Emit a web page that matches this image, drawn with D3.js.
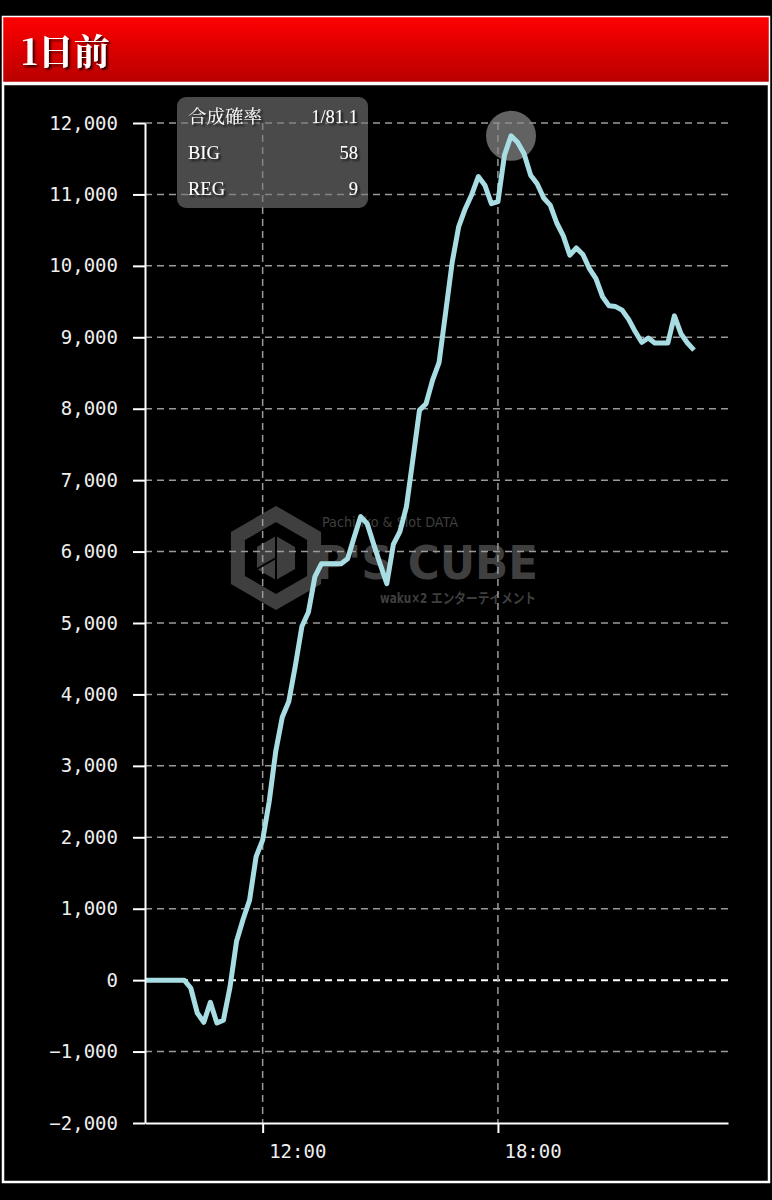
<!DOCTYPE html>
<html><head><meta charset="utf-8">
<script src="https://cdn.jsdelivr.net/npm/d3@7/dist/d3.min.js"></script>
<style>
html,body{margin:0;padding:0;background:#000;}
svg{display:block;}
</style></head>
<body>
<script>
const title = "1日前";
const times = [
"09:00","09:10","09:20","09:30","09:40","09:50",
"10:00","10:10","10:20","10:30","10:40","10:50",
"11:00","11:10","11:20","11:30","11:40","11:50",
"12:00","12:10","12:20","12:30","12:40","12:50",
"13:00","13:10","13:20","13:30","13:40","13:50",
"14:00","14:10","14:20","14:30","14:40","14:50",
"15:00","15:10","15:20","15:30","15:40","15:50",
"16:00","16:10","16:20","16:30","16:40","16:50",
"17:00","17:10","17:20","17:30","17:40","17:50",
"18:00","18:10","18:20","18:30","18:40","18:50",
"19:00","19:10","19:20","19:30","19:40","19:50",
"20:00","20:10","20:20","20:30","20:40","20:50",
"21:00","21:10","21:20","21:30","21:40","21:50",
"22:00","22:10","22:20","22:30","22:40","22:50",
"23:00"];
const values = [
0,0,0,0,0,0,
0,-110,-460,-590,-310,-600,
-560,-100,540,850,1120,1730,
1960,2500,3200,3680,3900,4400,
4950,5150,5650,5830,5830,5830,
5830,5900,6200,6490,6390,6100,
5820,5550,6100,6280,6630,7300,
7980,8070,8400,8650,9350,10050,
10550,10800,11000,11250,11130,10870,
10900,11550,11820,11730,11570,11270,
11150,10950,10850,10600,10420,10150,
10250,10160,9960,9820,9570,9440,
9430,9380,9250,9080,8930,8990,
8920,8920,8920,9300,9050,8920,
8820];
const yTicks = [-2000,-1000,0,1000,2000,3000,4000,5000,6000,7000,8000,9000,10000,11000,12000];
const xTicks = ["12:00","18:00"];
const xDomain = ["09:00","23:52"];
const statLabels = ["合成確率","BIG","REG"];
const statValues = ["1/81.1","58","9"];

const W = 772, H = 1200;
const parse = d3.timeParse("%H:%M");
const svg = d3.select("body").append("svg").attr("width",W).attr("height",H);

const defs = svg.append("defs");
const grad = defs.append("linearGradient").attr("id","hdr").attr("x1",0).attr("y1",0).attr("x2",0).attr("y2",1);
grad.append("stop").attr("offset","0%").attr("stop-color","#ff0000");
grad.append("stop").attr("offset","100%").attr("stop-color","#b80000");
const sh = defs.append("filter").attr("id","sh").attr("x","-20%").attr("y","-20%").attr("width","140%").attr("height","140%");
sh.append("feDropShadow").attr("dx",2).attr("dy",2).attr("stdDeviation",1).attr("flood-color","#000").attr("flood-opacity",0.8);

svg.append("rect").attr("width",W).attr("height",H).attr("fill","#000");

// header
svg.append("rect").attr("x",2.5).attr("y",16.5).attr("width",767).attr("height",66)
  .attr("fill","url(#hdr)").attr("stroke","#fff").attr("stroke-width",1.5);
svg.append("text").attr("x",21).attr("y",65).text(title)
  .attr("font-family","'Noto Serif CJK JP','Liberation Serif','Noto Sans CJK JP',serif")
  .attr("font-weight","bold").attr("font-size",36).attr("fill","#fff").attr("filter","url(#sh)");

// panel
svg.append("rect").attr("x",3).attr("y",84).attr("width",766).attr("height",1098)
  .attr("fill","#000").attr("stroke","#fff").attr("stroke-width",2.5);

const x = d3.scaleTime().domain(xDomain.map(parse)).range([145,728]);
const y = d3.scaleLinear().domain([-2000,12000]).range([1123,123]);

// watermark
const wm = svg.append("g").attr("fill","#3f3f3f");
(function(){
  const cx=276, cy=558, R=44;
  const hex = d3.range(6).map(i=>{const a=Math.PI/3*i - Math.PI/2; return [cx+R*Math.cos(a), cy+R*Math.sin(a)];});
  svg.append("path").attr("d","M"+hex.join("L")+"Z").attr("fill","none").attr("stroke","#3f3f3f").attr("stroke-width",14).attr("stroke-linejoin","miter");
  const r2=22;
  const hex2 = d3.range(6).map(i=>{const a=Math.PI/3*i - Math.PI/2; return [cx+r2*Math.cos(a), cy+r2*Math.sin(a)];});
  svg.append("path").attr("d","M"+hex2.join("L")+"Z").attr("fill","#3f3f3f");
  svg.append("path").attr("d",`M${hex2[0]}L${cx},${cy}L${hex2[4]}M${cx},${cy}L${cx},${cy+r2}`).attr("stroke","#000").attr("stroke-width",2).attr("fill","none");
})();
wm.append("text").attr("x",322).attr("y",527).attr("font-family","'DejaVu Sans Condensed','DejaVu Sans',sans-serif").attr("font-size",14).attr("textLength",136).attr("lengthAdjust","spacingAndGlyphs").text("Pachinko & Slot DATA");
wm.append("text").attr("x",316).attr("y",579).attr("font-family","'DejaVu Sans Condensed','DejaVu Sans',sans-serif").attr("font-weight","bold").attr("font-size",46).attr("textLength",222).attr("lengthAdjust","spacingAndGlyphs").text("P'S CUBE");
wm.append("text").attr("x",380).attr("y",603).attr("font-family","'DejaVu Sans Condensed','Noto Sans CJK JP',sans-serif").attr("font-weight","bold").attr("font-size",14).attr("textLength",156).attr("lengthAdjust","spacingAndGlyphs").text("waku×2 エンターテイメント");

// grid
const grid = svg.append("g");
grid.selectAll("line.h").data(yTicks.filter(d=>d>-2000)).join("line")
  .attr("x1",145).attr("x2",728).attr("y1",d=>y(d)).attr("y2",d=>y(d))
  .attr("stroke",d=>d===0?"#fff":"#9a9a9a").attr("stroke-width",d=>d===0?2:1.5).attr("stroke-dasharray","7,5");
grid.selectAll("line.v").data(xTicks).join("line")
  .attr("x1",d=>x(parse(d))).attr("x2",d=>x(parse(d))).attr("y1",123).attr("y2",1123)
  .attr("stroke","#9a9a9a").attr("stroke-width",1.5).attr("stroke-dasharray","7,5");

// tooltip box
svg.append("rect").attr("x",177).attr("y",97).attr("width",191).attr("height",111).attr("rx",9)
  .attr("fill","rgba(120,120,120,0.62)");
const st = svg.append("g").attr("font-family","'Liberation Serif','Noto Serif CJK JP','Noto Sans CJK JP',serif").attr("font-size",18.5).attr("fill","#fff").attr("filter","url(#sh)");
statLabels.forEach((l,i)=>{
  st.append("text").attr("x",188).attr("y",123+i*36).text(l);
  st.append("text").attr("x",358).attr("y",123+i*36).attr("text-anchor","end").text(statValues[i]);
});

// peak circle
const peakI = values.indexOf(d3.max(values));
svg.append("circle").attr("cx",x(parse(times[peakI]))).attr("cy",y(values[peakI])).attr("r",25)
  .attr("fill","rgba(140,140,140,0.7)");

// line
const line = d3.line().x((d,i)=>x(parse(times[i]))).y(d=>y(d));
svg.append("path").datum(values).attr("d",line).attr("fill","none")
  .attr("stroke","#a8dde4").attr("stroke-width",5).attr("stroke-linejoin","round");

// axes
const yAxis = d3.axisLeft(y).tickValues(yTicks).tickSizeInner(12).tickSizeOuter(0).tickPadding(15).tickFormat(d3.format(","));
const gy = svg.append("g").attr("transform","translate(145,0)").call(yAxis);
const xAxis = d3.axisBottom(x).tickValues(xTicks.map(parse)).tickSizeInner(10).tickSizeOuter(0).tickPadding(10).tickFormat(d3.timeFormat("%H:%M"));
const gx = svg.append("g").attr("transform","translate(0,1123)").call(xAxis);
[gx,gy].forEach(g=>{
  g.select(".domain").attr("stroke","#fff").attr("stroke-width",2);
  g.selectAll(".tick line").attr("stroke","#fff").attr("stroke-width",2);
  g.selectAll(".tick text").attr("fill","#eee").attr("font-family","'DejaVu Sans Mono',monospace").attr("font-size",19);
});
gx.selectAll(".tick text").attr("text-anchor","start").attr("x",6).attr("dy","0.8em");
</script>
</body></html>
